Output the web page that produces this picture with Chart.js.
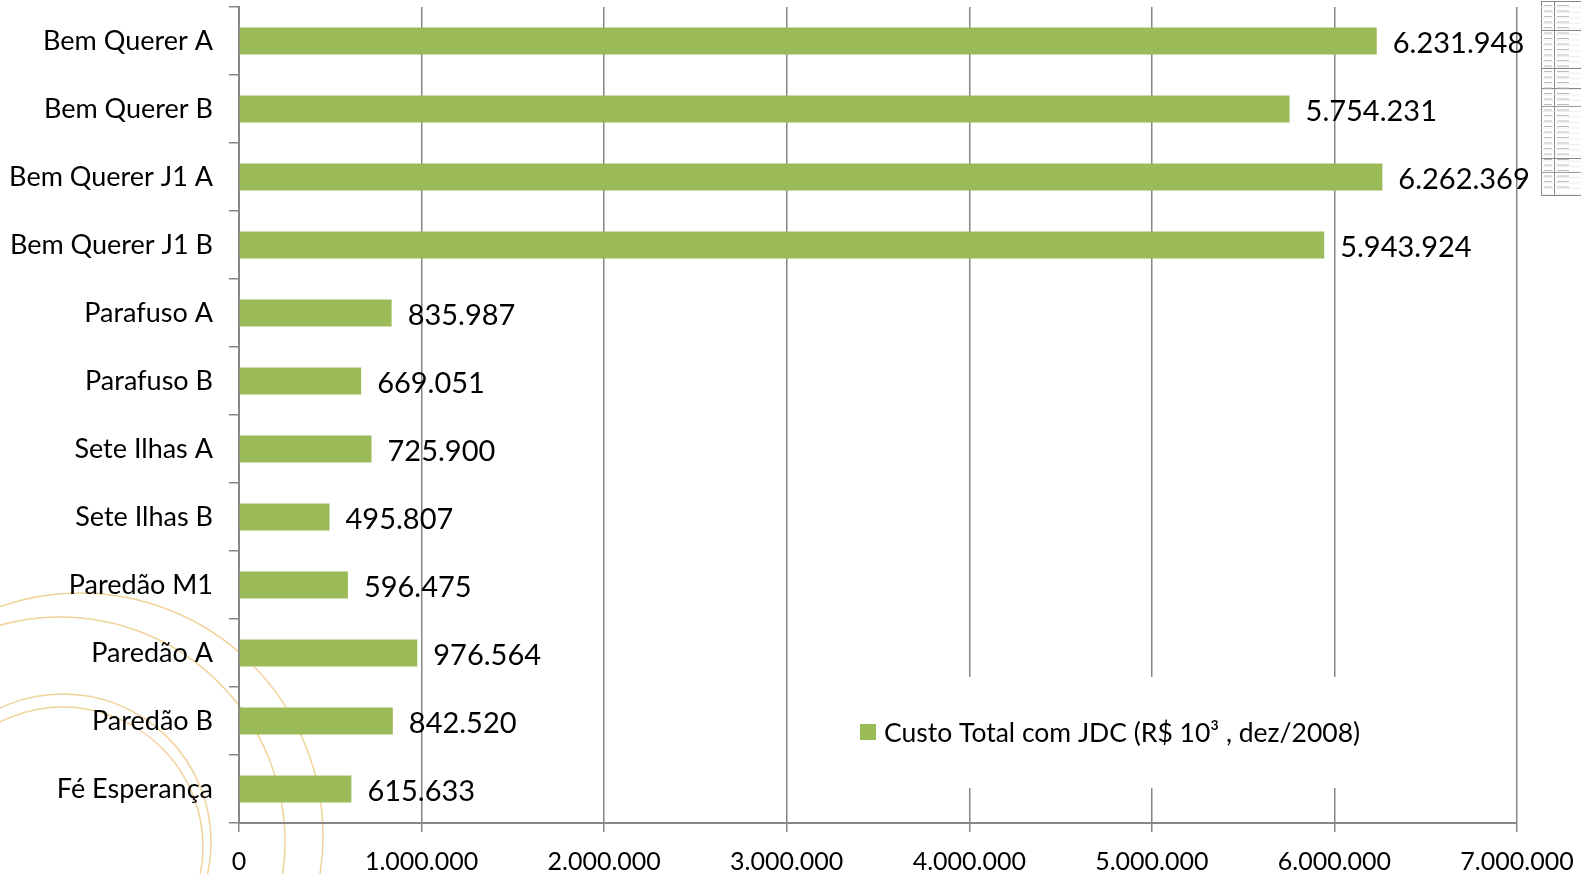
<!DOCTYPE html>
<html>
<head>
<meta charset="utf-8">
<title>Custo Total com JDC</title>
<script src="https://cdn.jsdelivr.net/npm/chart.js@4.4.1/dist/chart.umd.min.js"></script>
<style>
  html, body { margin: 0; padding: 0; background: #fff; }
  canvas { display: block; }
</style>
</head>
<body>
<canvas id="custoChart" width="1581" height="874"></canvas>
<script>
// --- Dados ---
const categories = [
    'Bem Querer A', 'Bem Querer B', 'Bem Querer J1 A', 'Bem Querer J1 B',
    'Parafuso A', 'Parafuso B', 'Sete Ilhas A', 'Sete Ilhas B',
    'Paredão M1', 'Paredão A', 'Paredão B', 'Fé Esperança'
];
const custoTotal = [
    6231948, 5754231, 6262369, 5943924,
    835987, 669051, 725900, 495807,
    596475, 976564, 842520, 615633
];
const xTicks = [0, 1000000, 2000000, 3000000, 4000000, 5000000, 6000000, 7000000];
const seriesLabel = 'Custo Total com JDC (R$ 10³ , dez/2008)';

const FONT = 'Lato, "Open Sans", sans-serif';
const BAR_COLOR = '#9BBB59';
const GRID_COLOR = '#868686';

// número com separador de milhar em ponto (ex: 6.231.948)
function fmt(v) {
    return String(v).replace(/\B(?=(\d{3})+(?!\d))/g, '.');
}

// --- Plugins ---

// arcos decorativos do fundo e a miniatura de tabela no canto
const backgroundDeco = {
    id: 'backgroundDeco',
    beforeDraw(chart) {
        const c = chart.ctx;
        c.save();
        c.strokeStyle = 'rgba(236, 200, 130, 0.8)';
        c.lineWidth = 1.5;
        [[80, 836, 243], [60, 842, 225], [63, 842, 148], [63, 847, 140]].forEach(([x, y, r]) => {
            c.beginPath();
            c.arc(x, y, r, 0, Math.PI * 2);
            c.stroke();
        });

        // miniatura da tabela
        const x0 = 1541, y0 = 1, w = 42, h = 194;
        c.fillStyle = '#fff';
        c.fillRect(x0, y0, w, h);
        c.strokeStyle = '#888';
        c.lineWidth = 1;
        c.strokeRect(x0 + 0.5, y0 + 0.5, w, h);
        c.beginPath();
        c.moveTo(x0 + 13.5, y0);
        c.lineTo(x0 + 13.5, y0 + h);
        c.stroke();
        const sections = [30, 68, 88, 106, 158, 172];
        sections.forEach(y => {
            c.beginPath();
            c.moveTo(x0, y + 0.5);
            c.lineTo(x0 + w, y + 0.5);
            c.stroke();
        });
        c.strokeStyle = '#ddd';
        c.lineWidth = 0.5;
        for (let y = 6; y < h; y += 5.5) {
            c.beginPath();
            c.moveTo(x0, y0 + y);
            c.lineTo(x0 + w, y0 + y);
            c.stroke();
        }
        c.fillStyle = '#bbb';
        for (let y = 4; y < h - 3; y += 5.5) {
            c.fillRect(x0 + 3, y0 + y, 8, 1);
            c.fillRect(x0 + 16, y0 + y, 12, 1);
        }
        c.restore();
    }
};

// valor escrito à direita de cada barra
const valueLabels = {
    id: 'valueLabels',
    afterDatasetsDraw(chart) {
        const c = chart.ctx;
        const meta = chart.getDatasetMeta(0);
        c.save();
        c.font = `29px ${FONT}`;
        c.fillStyle = '#000';
        c.textAlign = 'left';
        c.textBaseline = 'middle';
        meta.data.forEach((bar, i) => {
            c.fillText(fmt(custoTotal[i]), bar.x + 16, bar.y + 3);
        });
        c.restore();
    }
};

// legenda com fundo branco por cima das linhas de grade
const boxedLegend = {
    id: 'boxedLegend',
    afterDraw(chart) {
        const c = chart.ctx;
        c.save();
        c.fillStyle = '#fff';
        c.fillRect(850, 677, 520, 111);
        c.fillStyle = BAR_COLOR;
        c.fillRect(860, 724, 16, 16);
        c.font = `26.5px ${FONT}`;
        c.fillStyle = '#000';
        c.textBaseline = 'middle';
        c.fillText(chart.data.datasets[0].label, 884, 733);
        c.restore();
    }
};

// --- Gráfico ---
const ctx = document.getElementById('custoChart').getContext('2d');
const chart = new Chart(ctx, {
    type: 'bar',
    data: {
        labels: categories,
        datasets: [{
            label: seriesLabel,
            data: custoTotal,
            backgroundColor: BAR_COLOR,
            borderWidth: 0,
            categoryPercentage: 1,
            barPercentage: 0.4
        }]
    },
    options: {
        indexAxis: 'y',
        responsive: false,
        animation: false,
        layout: { padding: { top: 7, right: 64, left: 0, bottom: 0 } },
        plugins: {
            legend: { display: false },
            tooltip: { enabled: false }
        },
        scales: {
            x: {
                min: 0,
                max: 7000000,
                afterBuildTicks: scale => { scale.ticks = xTicks.map(v => ({ value: v })); },
                afterFit: scale => {
                    scale.height = 51;
                    scale.paddingLeft = 0;
                    scale.paddingRight = 0;
                },
                grid: { color: GRID_COLOR, lineWidth: 1.5, tickLength: 9, drawTicks: true },
                border: { color: GRID_COLOR, width: 2 },
                ticks: {
                    color: '#000',
                    font: { family: FONT, size: 25 },
                    padding: 15,
                    maxRotation: 0,
                    autoSkip: false,
                    callback: v => fmt(v)
                }
            },
            y: {
                afterFit: scale => {
                    scale.width = 239;
                    scale.paddingTop = 0;
                    scale.paddingBottom = 0;
                },
                grid: { offset: true, drawOnChartArea: false, color: GRID_COLOR, lineWidth: 1.5, tickLength: 10 },
                border: { color: GRID_COLOR, width: 2 },
                ticks: {
                    color: '#000',
                    font: { family: FONT, size: 27 },
                    padding: 16,
                    autoSkip: false
                }
            }
        }
    },
    plugins: [backgroundDeco, valueLabels, boxedLegend]
});
</script>
</body>
</html>
